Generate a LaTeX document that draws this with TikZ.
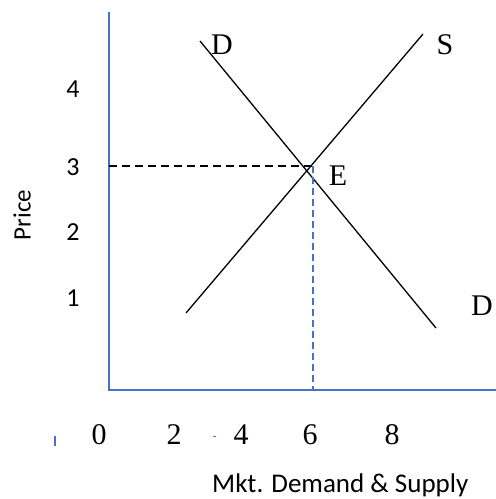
\documentclass[tikz,border=0pt]{standalone}
\usepackage{fontspec}
\setmainfont{Liberation Serif}
\newfontfamily\calibri{Carlito}
\usepackage{xcolor}
\usetikzlibrary{positioning}
\definecolor{axisblue}{RGB}{68,114,196}

\begin{document}
\begin{tikzpicture}[x=1pt,y=-1pt,
       axis/.style={draw=axisblue,line width=1.4pt},
       curve/.style={draw=black,line width=1.3pt},
       guide/.style={line width=1.1pt,dash pattern=on 8pt off 5pt},
       serif/.style={inner sep=0pt,font=\fontsize{30}{30}\selectfont},
       sans/.style={inner sep=0pt,font=\calibri\fontsize{26}{26}\selectfont}]
       \useasboundingbox (0,0) rectangle (496,499);

       % axes
       \coordinate (top) at (109,12);
       \coordinate (O) at (109,390);
       \coordinate (right) at (496,390);
       \draw[axis] (top) -- (O) -- (right);

       % demand and supply
       \coordinate (D1) at (200,41);
       \coordinate (D2) at (436,328);
       \coordinate (S1) at (186,313);
       \coordinate (S2) at (423,34);
       \draw[curve] (D1) -- (D2);
       \draw[curve] (S1) -- (S2);

       % equilibrium guides
       \coordinate (eq) at (313,166);
       \coordinate (p3) at (109,166);
       \coordinate (q6) at (313,390);
       \draw[guide] (p3) -- (eq);
       \draw[axisblue,line width=1.6pt,dash pattern=on 7pt off 4pt] (eq) -- (q6);

       \node[serif] (Dtop) at (222,45) {D};
       \node[serif] (Slab) at (445,45) {S};
       \node[serif] (Elab) at (338,176) {E};
       \node[serif] (Dbot) at (482,306) {D};

       % price ticks
       \node[sans] (y4) at (73,89) {4};
       \node[sans] (y3) at (73,167) {3};
       \node[sans] (y2) at (73,232) {2};
       \node[sans] (y1) at (73,298) {1};
       \node[sans,font=\calibri\fontsize{25}{25}\selectfont,rotate=90] (price) at (22,215) {Price};

       % quantity ticks
       \node[serif] (x0) at (99,435) {0};
       \node[serif] (x2) at (174,435) {2};
       \node[serif] (x4) at (241,435) {4};
       \node[serif] (x6) at (310,435) {6};
       \node[serif] (x8) at (392,435) {8};
       \node[sans,font=\calibri\fontsize{27}{27}\selectfont,anchor=base west] (qlab) at (212,492) {Mkt. Demand \& Supply};

       % stray marks
       \coordinate (m1) at (55,436);
       \coordinate (m2) at (55,446);
       \coordinate (m3) at (213,436);
       \coordinate (m4) at (216,436);
       \draw[axisblue,line width=1.3pt] (m1) -- (m2);
       \draw[axisblue,line width=1pt] (m3) -- (m4);
\end{tikzpicture}
\end{document}
